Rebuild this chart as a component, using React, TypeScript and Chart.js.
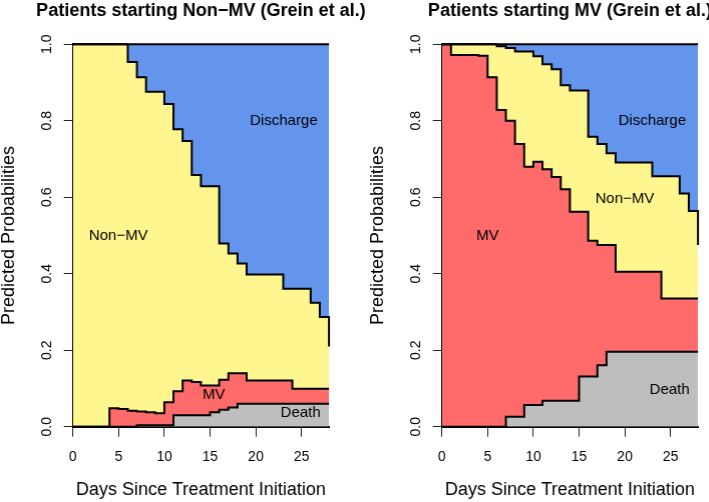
import React, { useEffect, useRef } from "react";
import { Chart, registerables } from "chart.js";

Chart.register(...registerables);

// ---- data ----
const days = [0,1,2,3,4,5,6,7,8,9,10,11,12,13,14,15,16,17,18,19,20,21,22,23,24,25,26,27,28];

// Patients starting Non-MV
const nonStartDeath = [0,0,0,0,0,0,0,0.004,0.004,0.004,0.004,0.030,0.030,0.030,0.030,0.038,0.044,0.050,0.060,0.060,0.060,0.060,0.060,0.060,0.060,0.060,0.060,0.060,0.060];
const nonStartMV = [0,0,0,0,0.048,0.046,0.042,0.036,0.034,0.031,0.060,0.063,0.091,0.087,0.078,0.070,0.079,0.090,0.080,0.061,0.061,0.061,0.061,0.061,0.039,0.039,0.039,0.039,0.039];
const nonStartNonMV = [1,1,1,1,0.952,0.954,0.912,0.874,0.838,0.841,0.780,0.685,0.626,0.541,0.521,0.521,0.356,0.313,0.287,0.277,0.277,0.277,0.277,0.240,0.262,0.262,0.225,0.188,0.111];
const nonStartDischarge = [0,0,0,0,0,0,0.046,0.086,0.124,0.124,0.156,0.222,0.253,0.342,0.371,0.371,0.521,0.547,0.573,0.602,0.602,0.602,0.602,0.639,0.639,0.639,0.676,0.713,0.790];

// Patients starting MV
const mvStartDeath = [0,0,0,0,0,0,0,0.026,0.026,0.057,0.057,0.068,0.068,0.068,0.068,0.131,0.131,0.161,0.196,0.196,0.196,0.196,0.196,0.196,0.196,0.196,0.196,0.196,0.196];
const mvStartMV = [1,0.972,0.972,0.972,0.970,0.914,0.828,0.774,0.713,0.623,0.636,0.605,0.585,0.553,0.494,0.431,0.355,0.314,0.279,0.209,0.209,0.209,0.209,0.209,0.139,0.139,0.139,0.139,0.139];
const mvStartNonMV = [0,0.028,0.028,0.028,0.030,0.086,0.167,0.190,0.242,0.301,0.276,0.275,0.282,0.272,0.317,0.317,0.272,0.264,0.240,0.286,0.286,0.286,0.286,0.250,0.320,0.320,0.275,0.229,0.140];
const mvStartDischarge = [0,0,0,0,0,0,0.005,0.010,0.019,0.019,0.031,0.052,0.065,0.107,0.121,0.121,0.242,0.261,0.285,0.309,0.309,0.309,0.309,0.345,0.345,0.345,0.390,0.436,0.525];

const xTicks = [0, 5, 10, 15, 20, 25];
const yTicks = [0, 0.2, 0.4, 0.6, 0.8, 1.0];

const stateNames = ["Death", "MV", "Non\u2212MV", "Discharge"];

// ---- styles ----
const FONT = "'Liberation Sans', Arial, Helvetica, sans-serif";
const COLORS = ["#BEBEBE", "#FF6A6A", "#FFF68F", "#6495ED"];

const leftLabels = [
  { text: "Discharge", x: 23.06, y: 0.80 },
  { text: "Non\u2212MV", x: 4.97, y: 0.499 },
  { text: "MV", x: 15.4, y: 0.083 },
  { text: "Death", x: 24.9, y: 0.037 },
];
const rightLabels = [
  { text: "Discharge", x: 23.0, y: 0.80 },
  { text: "Non\u2212MV", x: 20.0, y: 0.597 },
  { text: "MV", x: 5.0, y: 0.499 },
  { text: "Death", x: 24.9, y: 0.096 },
];

const regionLabels = {
  id: "regionLabels",
  afterDatasetsDraw(chart: any, _args: any, opts: any) {
    const { ctx } = chart;
    const xs = chart.scales.x;
    const ys = chart.scales.y;
    ctx.save();
    ctx.font = `15px ${FONT}`;
    ctx.fillStyle = "#000";
    ctx.textAlign = "center";
    ctx.textBaseline = "middle";
    for (const l of opts.items || []) {
      ctx.fillText(l.text, xs.getPixelForValue(l.x), ys.getPixelForValue(l.y));
    }
    ctx.restore();
  },
};

const PLOT_LEFT = 72.7;
const PLOT_RIGHT = 328.1;
const PLOT_TOP = 44.3;
const CANVAS_H = 502;
const CANVAS_W = 400.8;
const PLOT_BOTTOM = 426.7;

function Panel(props: {
  title: string;
  series: number[][];
  labels: { text: string; x: number; y: number }[];
  left: number;
}) {
  const ref = useRef<HTMLCanvasElement | null>(null);
  useEffect(() => {
    if (!ref.current) return;
    Chart.defaults.font.family = FONT;
    const datasets = props.series.map((vals, i) => ({
      label: stateNames[i],
      data: days.map((d, k) => ({ x: d, y: vals[k] })),
      backgroundColor: COLORS[i],
      borderColor: "#000",
      borderWidth: 2,
      borderJoinStyle: "miter" as const,
      stepped: true,
      pointRadius: 0,
      fill: i === 0 ? "origin" : "-1",
      clip: false as any,
      yAxisID: "y",
    }));
    const chart = new Chart(ref.current, {
      type: "line",
      data: { datasets },
      plugins: [regionLabels as any],
      options: {
        animation: false,
        responsive: true,
        maintainAspectRatio: false,
        devicePixelRatio: 1,
        layout: { padding: 0 },
        events: [],
        plugins: {
          legend: { display: false },
          tooltip: { enabled: false },
          filler: { drawTime: "beforeDatasetsDraw" },
          title: {
            display: true,
            text: props.title,
            fullSize: true,
            color: "#000",
            font: { size: 18, weight: "bold", family: FONT, lineHeight: 1.2 },
            padding: { top: 0.5, bottom: PLOT_TOP - 0.5 - 21.6 },
          },
          regionLabels: { items: props.labels },
        } as any,
        scales: {
          x: {
            type: "linear",
            min: 0,
            max: 28,
            z: 1,
            afterBuildTicks: (s: any) => {
              s.ticks = xTicks.map((v) => ({ value: v }));
            },
            ticks: {
              font: { size: 14, family: FONT },
              color: "#000",
              padding: 12,
              maxRotation: 0,
              autoSkip: false,
              includeBounds: false,
            },
            grid: {
              display: true,
              drawOnChartArea: false,
              drawTicks: true,
              tickLength: 10,
              color: "#222",
              lineWidth: 1,
            },
            border: { display: true, color: "#000", width: 2 },
            title: {
              display: true,
              text: "Days Since Treatment Initiation",
              color: "#000",
              font: { size: 18, family: FONT, lineHeight: 1.2 },
              padding: { top: 0, bottom: 1 },
            },
            afterFit: (s: any) => {
              s.height = CANVAS_H - PLOT_BOTTOM;
            },
          },
          y: {
            type: "linear",
            position: "left",
            stacked: true,
            min: 0,
            max: 1,
            z: 1,
            afterBuildTicks: (s: any) => {
              s.ticks = yTicks.map((v) => ({ value: v }));
            },
            ticks: {
              font: { size: 14, family: FONT },
              color: "#000",
              minRotation: 90,
              maxRotation: 90,
              crossAlign: "center",
              padding: 7,
              callback: (v: any) => Number(v).toFixed(1),
            },
            grid: {
              display: true,
              drawOnChartArea: false,
              drawTicks: true,
              tickLength: 9,
              color: "#222",
              lineWidth: 1,
            },
            border: { display: true, color: "#000", width: 2 },
            title: {
              display: true,
              text: "Predicted Probabilities",
              color: "#000",
              font: { size: 18, family: FONT, lineHeight: 1 },
              padding: { top: 0, bottom: 0 },
            },
            afterFit: (s: any) => {
              s.width = PLOT_LEFT;
            },
          },
          // empty spacer axis on the right so that the title centres over the plot
          yRight: {
            type: "linear",
            position: "right",
            display: true,
            min: 0,
            max: 1,
            grid: { display: false, drawTicks: false },
            border: { display: false },
            ticks: { display: false },
            title: { display: false },
            afterFit: (s: any) => {
              s.width = CANVAS_W - PLOT_RIGHT;
            },
          },
        } as any,
      },
    });
    return () => chart.destroy();
  }, []);
  return (
    <div
      style={{
        position: "absolute",
        left: props.left,
        top: 0,
        width: CANVAS_W,
        height: CANVAS_H,
      }}
    >
      <canvas ref={ref} />
    </div>
  );
}

export default function App() {
  return (
    <div
      style={{
        position: "fixed",
        left: 0,
        top: 0,
        width: 709,
        height: 502,
        background: "#fff",
        overflow: "hidden",
      }}
    >
      <Panel
        title={"Patients starting Non\u2212MV (Grein et al.)"}
        series={[nonStartDeath, nonStartMV, nonStartNonMV, nonStartDischarge]}
        labels={leftLabels}
        left={0}
      />
      <Panel
        title={"Patients starting MV (Grein et al.)"}
        series={[mvStartDeath, mvStartMV, mvStartNonMV, mvStartDischarge]}
        labels={rightLabels}
        left={369}
      />
    </div>
  );
}
